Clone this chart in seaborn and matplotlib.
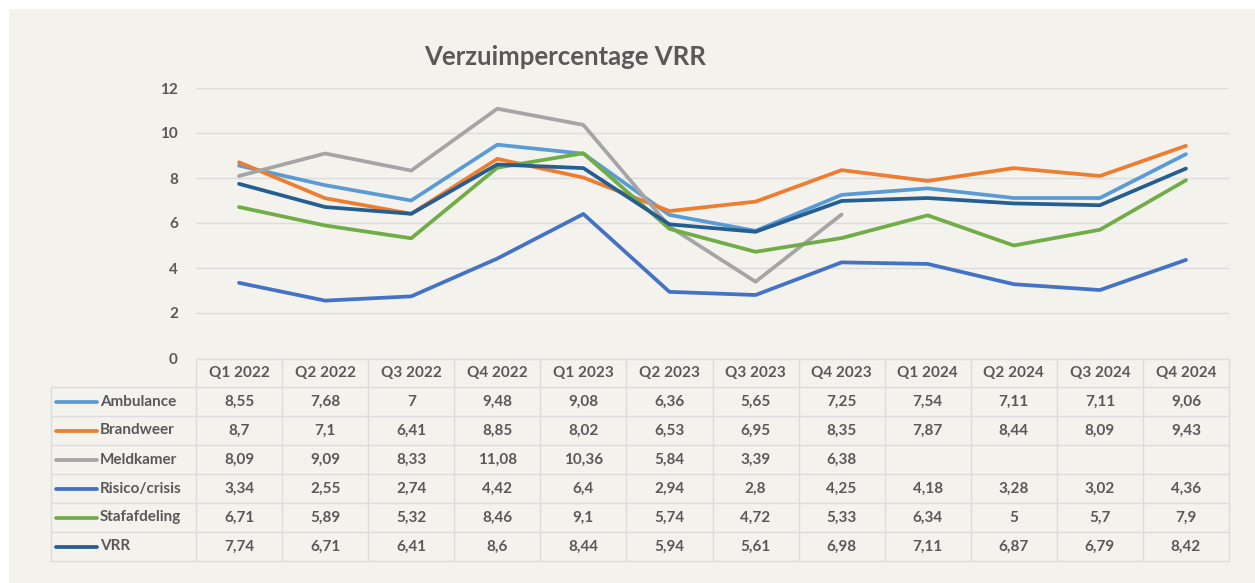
import numpy as np
import pandas as pd
import seaborn as sns
import matplotlib.pyplot as plt
from matplotlib.lines import Line2D

quarters = ['Q1 2022', 'Q2 2022', 'Q3 2022', 'Q4 2022', 'Q1 2023', 'Q2 2023',
            'Q3 2023', 'Q4 2023', 'Q1 2024', 'Q2 2024', 'Q3 2024', 'Q4 2024']
ambulance = [8.55, 7.68, 7, 9.48, 9.08, 6.36, 5.65, 7.25, 7.54, 7.11, 7.11, 9.06]
brandweer = [8.7, 7.1, 6.41, 8.85, 8.02, 6.53, 6.95, 8.35, 7.87, 8.44, 8.09, 9.43]
meldkamer = [8.09, 9.09, 8.33, 11.08, 10.36, 5.84, 3.39, 6.38, np.nan, np.nan, np.nan, np.nan]
risico = [3.34, 2.55, 2.74, 4.42, 6.4, 2.94, 2.8, 4.25, 4.18, 3.28, 3.02, 4.36]
staf = [6.71, 5.89, 5.32, 8.46, 9.1, 5.74, 4.72, 5.33, 6.34, 5, 5.7, 7.9]
vrr = [7.74, 6.71, 6.41, 8.6, 8.44, 5.94, 5.61, 6.98, 7.11, 6.87, 6.79, 8.42]

series = ['Ambulance', 'Brandweer', 'Meldkamer', 'Risico/crisis', 'Stafafdeling', 'VRR']
values = [ambulance, brandweer, meldkamer, risico, staf, vrr]
colors = ['#5B9BD5', '#ED7D31', '#A5A5A5', '#4472C4', '#70AD47', '#255E91']

df = pd.DataFrame({s: v for s, v in zip(series, values)}, index=quarters)
long = df.reset_index(names='kwartaal').melt(id_vars='kwartaal', var_name='afdeling', value_name='pct')

bg = '#F4F2ED'
txt = '#595959'
grid = '#DCDCDC'
fs = 11

sns.set_style('white')
plt.rcParams['font.family'] = ['Lato', 'DejaVu Sans']
plt.rcParams['font.weight'] = 'bold'

W, H = 1255, 583
fig = plt.figure(figsize=(W / 100, H / 100), dpi=100)
fig.patch.set_facecolor('white')
# panel background
fig.patches.append(plt.Rectangle((9 / W, 0), 1, 1 - 9 / H, transform=fig.transFigure,
                                 facecolor=bg, edgecolor='none', zorder=-10))

x0, x1 = 196, 1229
ytop, ybot = 88, 358
ax = fig.add_axes([x0 / W, 1 - ybot / H, (x1 - x0) / W, (ybot - ytop) / H])
ax.set_facecolor('none')

sns.lineplot(data=long, x='kwartaal', y='pct', hue='afdeling', palette=dict(zip(series, colors)),
             hue_order=series, sort=False, linewidth=2.7, legend=False, ax=ax)
ax.set_xlim(-0.5, len(quarters) - 0.5)
ax.set_ylim(0, 12)
ax.set_yticks(range(0, 13, 2))
ax.yaxis.grid(True, color=grid, linewidth=1)
ax.set_axisbelow(True)
ax.set_xticks([])
ax.set_xlabel('')
ax.set_ylabel('')
for s in ax.spines.values():
    s.set_visible(False)
ax.tick_params(axis='y', length=0, pad=13, labelsize=fs, labelcolor=txt)

fig.text(565 / W, 1 - 57 / H, 'Verzuimpercentage VRR', ha='center', va='center',
         fontsize=18.5, color=txt, fontweight='bold')

# data table
def fy(y):
    return 1 - y / H

def fx(x):
    return x / W

colw = (x1 - x0) / len(quarters)
head_top, head_bot = 359, 387
rowh = 29
lab_left = 51
tbl_bot = head_bot + rowh * len(series)

lines = []
lines.append(((x0, x1), (head_top, head_top)))
lines.append(((lab_left, x1), (head_bot, head_bot)))
for i in range(1, len(series) + 1):
    yy = head_bot + i * rowh
    lines.append(((lab_left, x1), (yy, yy)))
lines.append(((lab_left, lab_left), (head_bot, tbl_bot)))
for j in range(len(quarters) + 1):
    xx = x0 + j * colw
    lines.append(((xx, xx), (head_top, tbl_bot)))
for (xs, ys) in lines:
    fig.add_artist(Line2D([fx(xs[0]), fx(xs[1])], [fy(ys[0]), fy(ys[1])],
                          transform=fig.transFigure, color=grid, linewidth=1))

for j, q in enumerate(quarters):
    fig.text(fx(x0 + (j + 0.5) * colw), fy((head_top + head_bot) / 2), q, ha='center', va='center',
             fontsize=fs, color=txt, fontweight='bold')

for i, (name, vals, c) in enumerate(zip(series, values, colors)):
    yc = head_bot + (i + 0.5) * rowh
    fig.add_artist(Line2D([fx(56), fx(97)], [fy(yc), fy(yc)], transform=fig.transFigure,
                          color=c, linewidth=2.7, solid_capstyle='round'))
    fig.text(fx(100), fy(yc), name, ha='left', va='center', fontsize=fs, color=txt, fontweight='bold')
    for j, v in enumerate(vals):
        if np.isnan(v):
            continue
        fig.text(fx(x0 + (j + 0.5) * colw), fy(yc), f'{v:g}'.replace('.', ','), ha='center',
                 va='center', fontsize=fs, color=txt, fontweight='bold')

fig.savefig('out.png', dpi=100, facecolor=fig.get_facecolor())
